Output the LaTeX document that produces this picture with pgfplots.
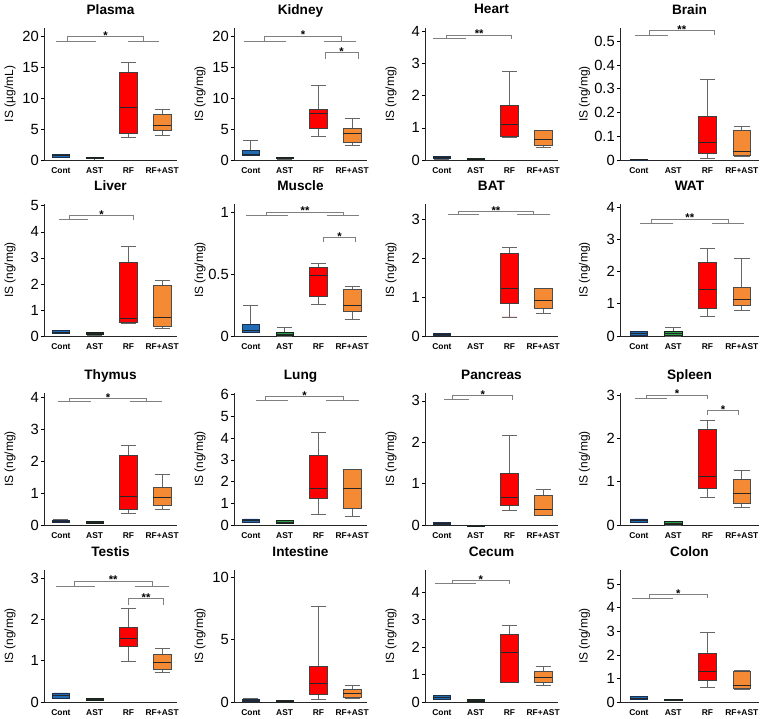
\documentclass[border=0pt]{standalone}
\usepackage{fontspec}
\setmainfont{Liberation Sans}
\usepackage{pgfplots}
\pgfplotsset{compat=1.18}
\usepgfplotslibrary{statistics}

\definecolor{cblue}{HTML}{1F6BB4}
\definecolor{cnavy}{HTML}{1B2F4D}
\definecolor{agreen}{HTML}{2E9E4A}
\definecolor{adark}{HTML}{14261A}
\definecolor{rfred}{HTML}{FF0000}
\definecolor{rforange}{HTML}{F58A34}

\pgfplotsset{
  organ/.style={
    scale only axis, width=3.325cm, height=3.3cm,
    axis lines*=left, axis line style={black!85, line width=0.6pt},
    xmin=0.5, xmax=4.44, ymin=0,
    xtick={1,2,3,4}, xticklabels={Cont,AST,RF,RF+AST},
    x tick label style={font=\fontsize{6}{7}\selectfont\bfseries},
    major x tick style={draw=none},
    y tick label style={font=\fontsize{10.5}{11}\selectfont, inner sep=1.5pt},
    tick align=outside, major tick length=2pt,
    ytick style={black, line width=0.5pt},
    scaled y ticks=false,
    /pgf/number format/assume math mode=true,
    yticklabel style={/pgf/number format/fixed},
    ylabel={IS (ng/mg)},
    ylabel style={at={(axis description cs:-0.255,0.5)}, anchor=center, font=\fontsize{8.5}{9}\selectfont},
    every axis title shift=0pt,
    title style={at={(axis description cs:0.5,1)}, anchor=base, yshift=0.35cm, font=\fontsize{9.7}{10}\selectfont\bfseries},
    clip=false,
    boxplot/draw direction=y,
    boxplot/box extend=0.52, boxplot/whisker extend=0.45,
    boxplot/every whisker/.style={draw=black!60, line width=0.6pt},
    boxplot/every median/.style={draw=black!85, line width=0.6pt},
  },
  col4/.style={width=3.475cm, xmin=0.45, xmax=4.5},
  cont/.style={fill=cblue, draw=cnavy, line width=0.5pt},
  ast/.style={fill=agreen, draw=adark, line width=0.5pt},
  rf/.style={fill=rfred, draw=black!75, line width=0.5pt},
  rfast/.style={fill=rforange, draw=black!70, line width=0.5pt},
}
\tikzset{bkt/.style={draw=black!50, line width=0.7pt},
  star/.style={anchor=base, inner sep=0pt, yshift=-2pt, font=\fontsize{8}{8}\selectfont\bfseries}}

% position, lower whisker, lower quartile, median, upper quartile, upper whisker, style
\newcommand\bx[7]{\addplot[boxplot prepared={draw position=#1, lower whisker=#2,
  lower quartile=#3, median=#4, upper quartile=#5, upper whisker=#6}, #7] coordinates {};}
% left bar L1-L2, rise xa..xb, y0 -> y1, right bar R1-R2, label
\newcommand\brk[9]{%
  \draw[bkt] (axis cs:#1,#5) -- (axis cs:#2,#5);
  \draw[bkt] (axis cs:#3,#5) -- (axis cs:#3,#6) -- (axis cs:#4,#6) -- (axis cs:#4,#5);
  \draw[bkt] (axis cs:#7,#5) -- (axis cs:#8,#5);
  \path (axis cs:#3,#6) -- node[star] {#9} (axis cs:#4,#6);}

\begin{document}
\begin{tikzpicture}
\useasboundingbox (0,0) rectangle (19.05,-17.95);

% ---- row 1
\begin{axis}[organ, at={(1.1cm,-4cm)}, anchor=south west, title={Plasma}, ylabel={IS (µg/mL)},
  ymax=21.3, ytick={0,5,10,15,20}]
\bx{1}{0.45}{0.5}{0.7}{0.95}{0.95}{cont}
\bx{2}{0.2}{0.22}{0.28}{0.35}{0.35}{ast}
\bx{3}{3.6}{4.27}{8.5}{14.2}{15.8}{rf}
\bx{4}{4.0}{4.8}{5.6}{7.3}{8.1}{rfast}
\brk{0.85}{2.05}{1.2}{3.45}{19.2}{19.85}{3.0}{3.9}{*}
\end{axis}

\begin{axis}[organ, at={(5.85cm,-4cm)}, anchor=south west, title={Kidney},
  ymax=21.3, ytick={0,5,10,15,20}]
\bx{1}{0.7}{0.75}{0.9}{1.5}{3.2}{cont}
\bx{2}{0.15}{0.2}{0.3}{0.4}{0.4}{ast}
\bx{3}{3.75}{5.1}{7.5}{8.2}{12.0}{rf}
\bx{4}{2.4}{2.85}{4.35}{5.1}{6.75}{rfast}
\brk{0.8}{2.03}{1.41}{3.68}{19.2}{20.0}{3.18}{4.1}{*}
\brk{3.2}{3.2}{3.2}{4.18}{16.3}{17.3}{4.18}{4.18}{*}
\end{axis}

\begin{axis}[organ, at={(10.625cm,-4cm)}, anchor=south west, title={Heart},
  ymax=4.11, ytick={0,1,2,3,4}]
\bx{1}{0.03}{0.04}{0.08}{0.12}{0.12}{cont}
\bx{2}{0.02}{0.02}{0.035}{0.05}{0.05}{ast}
\bx{3}{0.7}{0.73}{1.1}{1.71}{2.75}{rf}
\bx{4}{0.39}{0.47}{0.65}{0.93}{0.93}{rfast}
\brk{0.74}{1.7}{1.15}{3.06}{3.77}{3.89}{3.06}{3.06}{**}
\end{axis}

\begin{axis}[organ, col4, at={(15.5cm,-4cm)}, anchor=south west, title={Brain},
  ymax=0.556, ytick={0,0.1,0.2,0.3,0.4,0.5}]
\bx{1}{0}{0}{0.002}{0.004}{0.004}{cont}
\bx{3}{0.007}{0.027}{0.074}{0.185}{0.34}{rf}
\bx{4}{0.013}{0.02}{0.038}{0.124}{0.142}{rfast}
\brk{0.9}{1.85}{1.3}{3.2}{0.525}{0.545}{3.2}{3.2}{**}
\end{axis}

% ---- row 2
\begin{axis}[organ, at={(1.1cm,-8.4cm)}, anchor=south west, title={Liver},
  ymax=5.07, ytick={0,1,2,3,4,5}]
\bx{1}{0.09}{0.09}{0.14}{0.21}{0.21}{cont}
\bx{2}{0.04}{0.05}{0.1}{0.14}{0.14}{ast}
\bx{3}{0.47}{0.51}{0.69}{2.81}{3.43}{rf}
\bx{4}{0.28}{0.38}{0.71}{1.94}{2.13}{rfast}
\brk{0.95}{1.8}{1.26}{3.15}{4.46}{4.62}{3.15}{3.15}{*}
\end{axis}

\begin{axis}[organ, at={(5.85cm,-8.4cm)}, anchor=south west, title={Muscle},
  ymax=1.07, ytick={0,0.5,1}]
\bx{1}{0.027}{0.033}{0.047}{0.096}{0.25}{cont}
\bx{2}{0}{0.005}{0.014}{0.03}{0.066}{ast}
\bx{3}{0.252}{0.32}{0.493}{0.553}{0.589}{rf}
\bx{4}{0.134}{0.2}{0.246}{0.38}{0.4}{rfast}
\brk{0.85}{2.1}{1.47}{3.74}{0.978}{1.005}{3.26}{4.2}{**}
\brk{3.15}{3.15}{3.15}{4.1}{0.76}{0.8}{4.1}{4.1}{*}
\end{axis}

\begin{axis}[organ, at={(10.625cm,-8.4cm)}, anchor=south west, title={BAT},
  ymax=3.4, ytick={0,1,2,3}]
\bx{1}{0.01}{0.01}{0.04}{0.07}{0.07}{cont}
\bx{3}{0.49}{0.83}{1.22}{2.13}{2.27}{rf}
\bx{4}{0.57}{0.7}{0.92}{1.23}{1.23}{rfast}
\brk{1.18}{2.1}{1.5}{3.7}{3.13}{3.2}{3.24}{4.2}{**}
\end{axis}

\begin{axis}[organ, col4, at={(15.5cm,-8.4cm)}, anchor=south west, title={WAT},
  ymax=4.1, ytick={0,1,2,3,4}]
\bx{1}{0.03}{0.03}{0.08}{0.14}{0.14}{cont}
\bx{2}{0}{0.01}{0.08}{0.14}{0.26}{ast}
\bx{3}{0.62}{0.86}{1.46}{2.28}{2.72}{rf}
\bx{4}{0.78}{0.96}{1.15}{1.51}{2.41}{rfast}
\brk{1.03}{1.98}{1.37}{3.6}{3.5}{3.63}{3.14}{4.06}{**}
\end{axis}

% ---- row 3
\begin{axis}[organ, at={(1.1cm,-13.125cm)}, anchor=south west, title={Thymus},
  ymax=4.15, ytick={0,1,2,3,4}]
\bx{1}{0.08}{0.08}{0.12}{0.16}{0.16}{cont}
\bx{2}{0.05}{0.05}{0.07}{0.1}{0.1}{ast}
\bx{3}{0.37}{0.5}{0.89}{2.19}{2.49}{rf}
\bx{4}{0.5}{0.63}{0.86}{1.18}{1.6}{rfast}
\brk{0.91}{1.88}{1.26}{3.53}{3.87}{3.97}{3.06}{4.0}{*}
\end{axis}

\begin{axis}[organ, at={(5.85cm,-13.125cm)}, anchor=south west, title={Lung},
  ymax=6.08, ytick={0,1,2,3,4,5,6}]
\bx{1}{0.12}{0.12}{0.2}{0.28}{0.28}{cont}
\bx{2}{0.08}{0.08}{0.14}{0.2}{0.2}{ast}
\bx{3}{0.49}{1.22}{1.7}{3.22}{4.26}{rf}
\bx{4}{0.41}{0.76}{1.67}{2.55}{2.55}{rfast}
\brk{1.15}{2.09}{1.44}{3.74}{5.74}{5.9}{3.24}{4.2}{*}
\end{axis}

\begin{axis}[organ, at={(10.625cm,-13.125cm)}, anchor=south west, title={Pancreas},
  ymax=3.19, ytick={0,1,2,3}]
\bx{1}{0.01}{0.01}{0.03}{0.06}{0.06}{cont}
\bx{2}{-0.03}{-0.03}{-0.015}{0}{0}{ast}
\bx{3}{0.35}{0.48}{0.67}{1.25}{2.17}{rf}
\bx{4}{0.23}{0.23}{0.38}{0.72}{0.87}{rfast}
\brk{1.06}{1.8}{1.32}{3.1}{3.03}{3.12}{3.1}{3.1}{*}
\end{axis}

\begin{axis}[organ, col4, at={(15.5cm,-13.125cm)}, anchor=south west, title={Spleen},
  ymax=3.05, ytick={0,1,2,3}]
\bx{1}{0.07}{0.07}{0.11}{0.14}{0.14}{cont}
\bx{2}{0}{0.01}{0.04}{0.08}{0.08}{ast}
\bx{3}{0.64}{0.85}{1.12}{2.22}{2.41}{rf}
\bx{4}{0.41}{0.51}{0.74}{1.05}{1.27}{rfast}
\brk{0.88}{1.81}{1.23}{3.0}{2.92}{3.0}{3.0}{3.0}{*}
\brk{3.0}{3.0}{3.0}{3.9}{2.54}{2.65}{3.9}{3.9}{*}
\end{axis}

% ---- row 4
\begin{axis}[organ, at={(1.1cm,-17.55cm)}, anchor=south west, title={Testis},
  ymax=3.2, ytick={0,1,2,3}]
\bx{1}{0.08}{0.1}{0.15}{0.2}{0.22}{cont}
\bx{2}{0.04}{0.04}{0.06}{0.08}{0.08}{ast}
\bx{3}{0.99}{1.35}{1.55}{1.8}{2.26}{rf}
\bx{4}{0.72}{0.8}{0.95}{1.15}{1.3}{rfast}
\brk{0.85}{2.0}{1.4}{3.7}{2.8}{2.93}{3.2}{4.2}{**}
\brk{3.0}{3.0}{3.0}{4.05}{2.35}{2.5}{4.05}{4.05}{**}
\end{axis}

\begin{axis}[organ, at={(5.85cm,-17.55cm)}, anchor=south west, title={Intestine},
  ymax=10.6, ytick={0,5,10}]
\bx{1}{0.05}{0.05}{0.15}{0.25}{0.25}{cont}
\bx{2}{0.05}{0.05}{0.1}{0.15}{0.15}{ast}
\bx{3}{0.2}{0.6}{1.5}{2.9}{7.7}{rf}
\bx{4}{0.3}{0.4}{0.7}{1.0}{1.3}{rfast}
\end{axis}

\begin{axis}[organ, at={(10.625cm,-17.55cm)}, anchor=south west, title={Cecum},
  ymax=4.8, ytick={0,1,2,3,4}]
\bx{1}{0.1}{0.1}{0.17}{0.25}{0.25}{cont}
\bx{2}{0.03}{0.03}{0.06}{0.1}{0.1}{ast}
\bx{3}{0.7}{0.7}{1.8}{2.45}{2.8}{rf}
\bx{4}{0.6}{0.7}{0.9}{1.1}{1.3}{rfast}
\brk{0.8}{2.0}{1.3}{3.0}{4.3}{4.42}{3.0}{3.0}{*}
\end{axis}

\begin{axis}[organ, col4, at={(15.5cm,-17.55cm)}, anchor=south west, title={Colon},
  ymax=5.6, ytick={0,1,2,3,4,5}]
\bx{1}{0.1}{0.1}{0.17}{0.25}{0.25}{cont}
\bx{2}{0.05}{0.05}{0.07}{0.1}{0.1}{ast}
\bx{3}{0.6}{0.9}{1.3}{2.05}{2.95}{rf}
\bx{4}{0.55}{0.6}{0.7}{1.3}{1.35}{rfast}
\brk{0.8}{2.0}{1.3}{3.0}{4.4}{4.55}{3.0}{3.0}{*}
\end{axis}
\end{tikzpicture}
\end{document}
